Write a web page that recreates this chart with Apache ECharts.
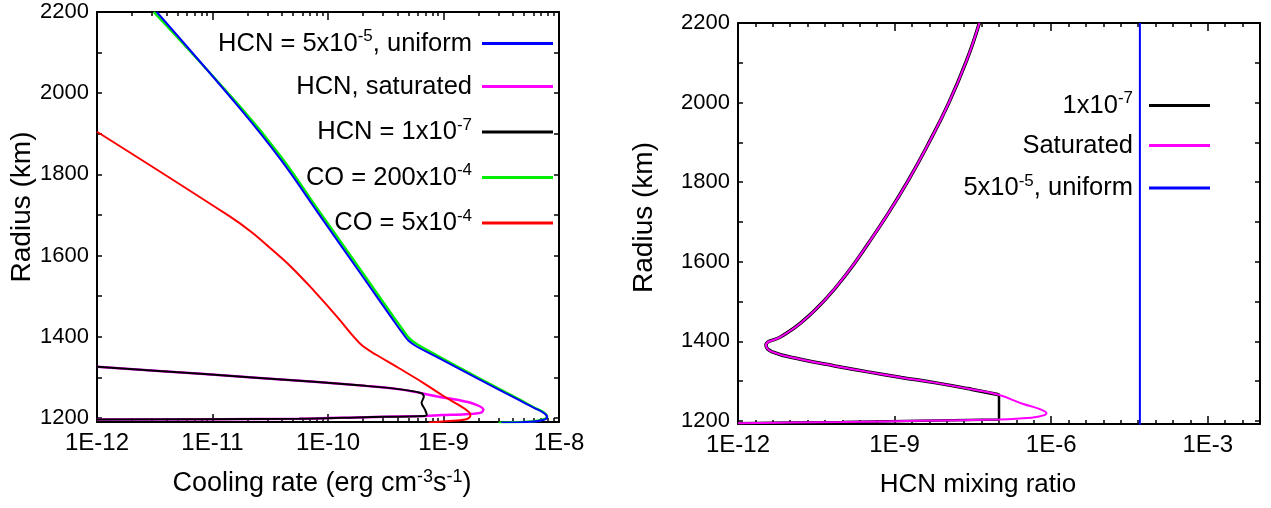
<!DOCTYPE html>
<html>
<head>
<meta charset="utf-8">
<script src="https://cdn.jsdelivr.net/npm/echarts@6/dist/echarts.min.js"></script>
<style>
  html, body { margin: 0; padding: 0; background: #ffffff; }
  #chart { width: 1271px; height: 508px; }
</style>
</head>
<body>
<div id="chart"></div>
<script>
// ---------- Left panel: cooling rate (erg cm^-3 s^-1) vs radius (km) ----------
const hcnUniformRate   = [3.29e-12, 1.77e-11, 3.93e-11, 8.49e-11, 1.99e-10, 3.71e-10, 4.39e-10, 4.99e-10, 5.85e-10, 9.05e-10, 2.00e-9, 4.44e-9, 5.97e-9, 7.43e-9, 7.89e-9, 7.28e-9, 5.74e-9, 3.16e-9];
const hcnUniformRadius = [2200, 1959, 1835, 1699, 1549, 1439, 1410, 1390, 1376, 1348, 1296, 1245, 1226, 1212, 1202, 1195, 1190.5, 1188];

const coHighRate   = [3.1e-12, 1.77e-11, 3.93e-11, 8.49e-11, 1.99e-10, 3.71e-10, 4.39e-10, 4.99e-10, 5.85e-10, 9.05e-10, 2.00e-9, 4.44e-9, 5.97e-9, 7.43e-9, 7.89e-9, 7.28e-9, 5.74e-9, 3.0e-9];
const coHighRadius = [2200, 1964, 1843, 1707, 1558, 1448, 1419, 1398, 1382, 1352, 1299, 1247, 1227, 1213, 1203, 1196, 1191, 1188];

const coLowRate   = [1e-12, 1.40e-11, 2.17e-11, 3.23e-11, 4.80e-11, 7.57e-11, 1.20e-10, 1.68e-10, 2.00e-10, 2.64e-10, 4.09e-10, 6.72e-10, 1.0e-9, 1.35e-9, 1.64e-9, 1.71e-9, 1.58e-9, 1.04e-9, 7.43e-10];
const coLowRadius = [1905, 1697, 1658, 1616, 1572, 1513, 1449, 1399, 1377, 1355, 1323, 1286, 1254, 1232, 1216, 1207, 1197, 1192, 1188];

const hcnSatRate   = [1e-12, 8.5e-12, 7.6e-11, 2.11e-10, 4.07e-10, 6.46e-10, 9.1e-10, 1.35e-9, 1.86e-9, 2.21e-9, 2.11e-9, 1.55e-9, 9.7e-10, 6.9e-10, 2.11e-10, 5.6e-11, 1e-12];
const hcnSatRadius = [1326, 1308, 1289, 1279, 1271, 1261, 1252, 1244, 1234, 1221, 1213, 1209, 1207, 1205, 1202, 1198, 1196];

const hcnLowRate   = [1e-12, 8.5e-12, 7.6e-11, 2.11e-10, 4.07e-10, 6.46e-10, 6.76e-10, 6.46e-10, 6.9e-10, 7.16e-10, 6.9e-10, 2.11e-10, 5.6e-11, 1e-12];
const hcnLowRadius = [1326, 1308, 1289, 1279, 1271, 1261, 1253, 1237, 1221, 1208, 1205, 1202, 1198, 1196];

// ---------- Right panel: HCN mixing ratio vs radius (km) ----------
const mixSatRatio  = [4.21e-8, 2.42e-8, 1.09e-8, 4.14e-9, 1.84e-9, 7.59e-10, 3.17e-10, 1.23e-10, 4.63e-11, 1.60e-11, 6.55e-12, 3.43e-12, 4.41e-12, 1.65e-11, 7.14e-11, 3.09e-10, 1.34e-9, 5.82e-9, 2.52e-8, 9.42e-8, 2.82e-7, 5.89e-7, 8.13e-7, 5.89e-7, 2.14e-7, 9.77e-8, 3.16e-9, 1e-10, 1e-11, 1e-12];
const mixSatRadius = [2200, 2107, 1999, 1889, 1805, 1722, 1647, 1571, 1504, 1446, 1411, 1391, 1374, 1354, 1338, 1323, 1309, 1296, 1281, 1266, 1243, 1230, 1219, 1211, 1205, 1203, 1200, 1197, 1195.5, 1194];

// 1x10^-7 profile: follows the saturated profile above, then capped at 1e-7
const mixLowUpperRatio  = [4.21e-8, 2.42e-8, 1.09e-8, 4.14e-9, 1.84e-9, 7.59e-10, 3.17e-10, 1.23e-10, 4.63e-11, 1.60e-11, 6.55e-12, 3.43e-12, 4.41e-12, 1.65e-11, 7.14e-11, 3.09e-10, 1.34e-9, 5.82e-9, 2.52e-8, 9.42e-8, 1e-7];
const mixLowUpperRadius = [2200, 2107, 1999, 1889, 1805, 1722, 1647, 1571, 1504, 1446, 1411, 1391, 1374, 1354, 1338, 1323, 1309, 1296, 1281, 1266, 1264];
const mixLowLowerRatio  = [1e-7, 1e-7, 3.16e-9, 1e-10, 1e-11, 1e-12];
const mixLowLowerRadius = [1264, 1203, 1200, 1197, 1195.5, 1194];

const mixUniformRatio  = [5e-5, 5e-5];
const mixUniformRadius = [1190, 2200];

// ---------- Axis labels / ticks ----------
const leftExpRange  = [-12, -8];
const rightExpRange = [-12, -2];
const rightLabelExps = [-12, -9, -6, -3];
const radiusLabels = [1200, 1400, 1600, 1800, 2000, 2200];
const radiusTicks  = [1200, 1300, 1400, 1500, 1600, 1700, 1800, 1900, 2000, 2100, 2200];

const leftNames  = ['hcnU', 'hcnS', 'hcnL', 'coH', 'coL'];
const leftLegend = {
  hcnU: 'HCN = 5x10{sup|-5}, uniform',
  hcnS: 'HCN, saturated',
  hcnL: 'HCN = 1x10{sup|-7}',
  coH:  'CO = 200x10{sup|-4}',
  coL:  'CO = 5x10{sup|-4}'
};
const rightNames  = ['mixL', 'mixS', 'mixU'];
const rightLegend = {
  mixL: '1x10{sup|-7}',
  mixS: 'Saturated',
  mixU: '5x10{sup|-5}, uniform'
};

// ---------- build ----------
const FONT = "'Liberation Sans', Arial, sans-serif";
const toPts = (xs, ys) => xs.map((v, i) => [Math.log10(v), ys[i]]);

const logMinor = [];
for (let d = leftExpRange[0]; d < leftExpRange[1]; d++) {
  for (let k = 2; k <= 9; k++) logMinor.push(d + Math.log10(k));
}
const rightMinor = [];
for (let d = rightExpRange[0]; d < rightExpRange[1]; d++) rightMinor.push(d, d + 1 / 3, d + 2 / 3);

const supStyle = { fontSize: 17, fontFamily: FONT, color: '#000', padding: [0, 0, 14, 0] };
const supName  = { fontSize: 18, fontFamily: FONT, color: '#000', padding: [0, 0, 14, 0] };

function xMain(grid, pos, range, interval, withLabel, extra) {
  const ax = {
    type: 'value', gridIndex: grid, position: pos, min: range[0], max: range[1], interval: interval,
    axisLine: { show: true, onZero: false, lineStyle: { color: '#000', width: 2 } },
    axisTick: { show: true, inside: true, length: 8, lineStyle: { color: '#000', width: 1.5 } },
    axisLabel: { show: withLabel, formatter: v => '1E' + v, fontSize: 24, color: '#000', fontFamily: FONT, margin: 9 },
    splitLine: { show: false }
  };
  return Object.assign(ax, extra || {});
}
function xMinor(grid, pos, range, values) {
  return {
    type: 'value', gridIndex: grid, position: pos, min: range[0], max: range[1],
    axisLine: { show: false, onZero: false },
    axisTick: { show: true, inside: true, length: 4, customValues: values, lineStyle: { color: '#000', width: 1.5 } },
    axisLabel: { show: false }, splitLine: { show: false }
  };
}
function yAx(grid, pos, min, withLabel, extra) {
  const ax = {
    type: 'value', gridIndex: grid, position: pos, min: min, max: 2200,
    axisLine: { show: true, onZero: false, lineStyle: { color: '#000', width: 2 } },
    axisTick: { show: true, inside: true, length: 5, customValues: radiusTicks, lineStyle: { color: '#000', width: 1.5 } },
    axisLabel: { show: withLabel, customValues: radiusLabels, formatter: v => String(v), fontSize: 22, color: '#000', fontFamily: FONT, margin: 8 },
    splitLine: { show: false }
  };
  return Object.assign(ax, extra || {});
}
function line(name, xi, yi, z, color, width, smooth, pts) {
  return { name: name, type: 'line', xAxisIndex: xi, yAxisIndex: yi, z: z, color: color,
    showSymbol: false, symbol: 'none', smooth: smooth, lineStyle: { width: width, color: color }, data: pts };
}

const option = {
  animation: false,
  backgroundColor: '#ffffff',
  grid: [
    { left: 97, top: 12, width: 462, height: 410 },
    { left: 738, top: 23, width: 522, height: 401 }
  ],
  xAxis: [
    xMain(0, 'bottom', leftExpRange, 1, true, {
      name: 'Cooling rate (erg cm{sup|-3}s{sup|-1})', nameLocation: 'middle', nameGap: 47,
      nameTextStyle: { fontSize: 27, color: '#000', fontFamily: FONT, lineHeight: 30, padding: [0, 12, 0, 0], rich: { sup: supName } }
    }),
    xMinor(0, 'bottom', leftExpRange, logMinor),
    xMain(0, 'top', leftExpRange, 1, false),
    xMinor(0, 'top', leftExpRange, logMinor),
    xMain(1, 'bottom', rightExpRange, 3, true, {
      axisLabel: { show: true, customValues: rightLabelExps, formatter: v => '1E' + v, fontSize: 24, color: '#000', fontFamily: FONT, margin: 9 },
      axisTick: { show: true, inside: true, length: 8, customValues: rightLabelExps, lineStyle: { color: '#000', width: 1.5 } },
      name: 'HCN mixing ratio', nameLocation: 'middle', nameGap: 46,
      nameTextStyle: { fontSize: 26, color: '#000', fontFamily: FONT, lineHeight: 30, padding: [0, 42, 0, 0] }
    }),
    xMinor(1, 'bottom', rightExpRange, rightMinor),
    xMain(1, 'top', rightExpRange, 3, false, {
      axisTick: { show: true, inside: true, length: 8, customValues: rightLabelExps, lineStyle: { color: '#000', width: 1.5 } }
    }),
    xMinor(1, 'top', rightExpRange, rightMinor)
  ],
  yAxis: [
    yAx(0, 'left', 1190, true, {
      name: 'Radius (km)', nameLocation: 'middle', nameGap: 58,
      nameTextStyle: { fontSize: 28, color: '#000', fontFamily: FONT, padding: [0, 0, 0, 20] }
    }),
    yAx(0, 'right', 1190, false),
    yAx(1, 'left', 1192, true, {
      name: 'Radius (km)', nameLocation: 'middle', nameGap: 80,
      nameTextStyle: { fontSize: 28, color: '#000', fontFamily: FONT, padding: [0, 0, 0, 12] }
    }),
    yAx(1, 'right', 1192, false)
  ],
  legend: [
    {
      orient: 'vertical', right: 718, top: 28, align: 'right', padding: 0,
      itemWidth: 71, itemHeight: 3, itemGap: 17, icon: 'rect', selectedMode: false,
      data: leftNames, formatter: n => leftLegend[n],
      textStyle: { fontSize: 25.5, color: '#000', fontFamily: FONT, lineHeight: 26, padding: [0, 5, 0, 0], rich: { sup: supStyle } }
    },
    {
      orient: 'vertical', right: 61, top: 90, align: 'right', padding: 0,
      itemWidth: 61, itemHeight: 3, itemGap: 14, icon: 'rect', selectedMode: false,
      data: rightNames, formatter: n => rightLegend[n],
      textStyle: { fontSize: 25.5, color: '#000', fontFamily: FONT, lineHeight: 26, padding: [0, 11, 0, 0], rich: { sup: supStyle } }
    }
  ],
  series: [
    line('hcnU', 0, 0, 4, '#0000ff', 2, 0.4, toPts(hcnUniformRate, hcnUniformRadius)),
    line('hcnS', 0, 0, 2, '#ff00ff', 2.5, 0.35, toPts(hcnSatRate, hcnSatRadius)),
    line('hcnL', 0, 0, 3, '#000000', 2, 0.25, toPts(hcnLowRate, hcnLowRadius)),
    line('coH', 0, 0, 2, '#00ee00', 2.5, 0.4, toPts(coHighRate, coHighRadius)),
    line('coL', 0, 0, 2, '#ff0000', 2, 0.4, toPts(coLowRate, coLowRadius)),

    line('mixL', 4, 2, 2, '#000000', 3.5, 0.45, toPts(mixLowUpperRatio, mixLowUpperRadius)),
    line('mixL', 4, 2, 2, '#000000', 2.5, false, toPts(mixLowLowerRatio, mixLowLowerRadius)),
    line('mixS', 4, 2, 3, '#ff00ff', 2, 0.45, toPts(mixSatRatio, mixSatRadius)),
    line('mixU', 4, 2, 3, '#0000ff', 2, false, toPts(mixUniformRatio, mixUniformRadius))
  ]
};

const chart = echarts.init(document.getElementById('chart'), null, { renderer: 'canvas' });
chart.setOption(option);
</script>
</body>
</html>
